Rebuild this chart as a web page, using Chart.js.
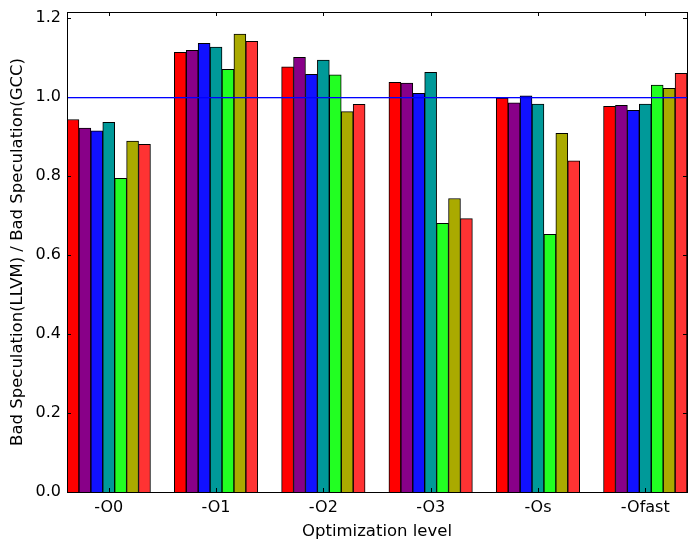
<!DOCTYPE html>
<html>
<head>
<meta charset="utf-8">
<script src="https://cdn.jsdelivr.net/npm/chart.js@4"></script>
<style>
  html, body { margin: 0; padding: 0; background: white; }
  #wrap { width: 697px; height: 550px; }
</style>
</head>
<body>
<div id="wrap"><canvas id="chart"></canvas></div>
<script>
const levels = ['-O0', '-O1', '-O2', '-O3', '-Os', '-Ofast'];

// one array per bar colour (ratio LLVM / GCC)
const series1 = [0.943, 1.113, 1.076, 1.037, 0.997, 0.976];
const series2 = [0.921, 1.118, 1.100, 1.035, 0.985, 0.979];
const series3 = [0.914, 1.136, 1.057, 1.009, 1.003, 0.966];
const series4 = [0.936, 1.126, 1.093, 1.062, 0.982, 0.982];
const series5 = [0.794, 1.070, 1.056, 0.680, 0.652, 1.030];
const series6 = [0.888, 1.159, 0.963, 0.743, 0.908, 1.022];
const series7 = [0.880, 1.141, 0.981, 0.692, 0.838, 1.060];

const yTicks = [0.0, 0.2, 0.4, 0.6, 0.8, 1.0, 1.2];
const refValue = 1.0;

const allSeries = [series1, series2, series3, series4, series5, series6, series7];
const seriesColors = ['#ff0000', '#880088', '#1111ff', '#009999', '#22ff22', '#aaaa00', '#ff3333'];

const barWidth = 1 / 9;  // in x units, groups are 1 unit apart
const xMax = levels.length - 1 + allSeries.length * barWidth;
const groupCenter = (i) => i + allSeries.length * barWidth / 2;

Chart.defaults.font.family = 'DejaVu Sans';
Chart.defaults.font.size = 16;
Chart.defaults.color = '#000';

const datasets = allSeries.map((values, j) => ({
    label: 'series ' + (j + 1),
    data: values.map((v, i) => ({ x: i + (j + 0.5) * barWidth, y: v })),
    backgroundColor: seriesColors[j],
    borderColor: '#000',
    borderWidth: 1,
    grouped: false,
    categoryPercentage: 1.0,
    barPercentage: 1.0,
}));

// frame, inward tick marks and the 1.0 reference line, matplotlib style
const framePlugin = {
    id: 'frame',
    afterDatasetsDraw(chart) {
        const { ctx, chartArea: { left, right, top, bottom }, scales: { x, y } } = chart;
        const tickLen = 4;
        ctx.save();
        ctx.lineWidth = 1;

        ctx.strokeStyle = '#000';
        ctx.beginPath();
        yTicks.forEach(v => {
            const py = Math.round(y.getPixelForValue(v)) + 0.5;
            ctx.moveTo(left, py); ctx.lineTo(left + tickLen, py);
            ctx.moveTo(right, py); ctx.lineTo(right - tickLen, py);
        });
        levels.forEach((_, i) => {
            const px = Math.round(x.getPixelForValue(groupCenter(i))) + 0.5;
            ctx.moveTo(px, bottom); ctx.lineTo(px, bottom - tickLen);
            ctx.moveTo(px, top); ctx.lineTo(px, top + tickLen);
        });
        ctx.stroke();

        // reference line at 1.0
        ctx.fillStyle = 'rgb(0, 0, 255)';
        ctx.fillRect(left, Math.round(y.getPixelForValue(refValue)), right - left, 1.3);

        ctx.strokeStyle = '#000';
        ctx.strokeRect(Math.round(left) + 0.5, Math.round(top) + 0.5,
            Math.round(right - left), Math.round(bottom - top));
        ctx.restore();
    }
};

new Chart(document.getElementById('chart'), {
    type: 'bar',
    data: { datasets },
    options: {
        responsive: true,
        maintainAspectRatio: false,
        animation: false,
        layout: { padding: { top: 12, right: 10, left: 0, bottom: 0 } },
        plugins: {
            legend: { display: false },
            tooltip: { enabled: false },
        },
        scales: {
            x: {
                type: 'linear',
                offset: false,
                min: 0,
                max: xMax,
                grid: { display: false, drawTicks: false },
                border: { display: false },
                afterBuildTicks: (axis) => {
                    axis.ticks = levels.map((_, i) => ({ value: groupCenter(i) }));
                },
                afterFit: (axis) => {
                    axis.height = 58;
                    axis.paddingLeft = 0;
                    axis.paddingRight = 0;
                },
                ticks: {
                    padding: 6,
                    maxRotation: 0,
                    autoSkip: false,
                    callback: (value, index) => levels[index],
                },
                title: {
                    display: true,
                    text: 'Optimization level',
                    font: { size: 16.5 },
                    padding: { top: 0, bottom: 8 },
                },
            },
            y: {
                min: 0,
                max: 1.215,
                grid: { display: false, drawTicks: false },
                border: { display: false },
                afterBuildTicks: (axis) => {
                    axis.ticks = yTicks.map(v => ({ value: v }));
                },
                afterFit: (axis) => {
                    axis.width = 67;
                    axis.paddingTop = 0;
                    axis.paddingBottom = 0;
                },
                ticks: {
                    padding: 6,
                    callback: (value) => value.toFixed(1),
                },
                title: {
                    display: true,
                    text: 'Bad Speculation(LLVM) / Bad Speculation(GCC)',
                    font: { size: 16.5 },
                    padding: { top: 8, bottom: 0 },
                },
            },
        },
    },
    plugins: [framePlugin],
});
</script>
</body>
</html>
